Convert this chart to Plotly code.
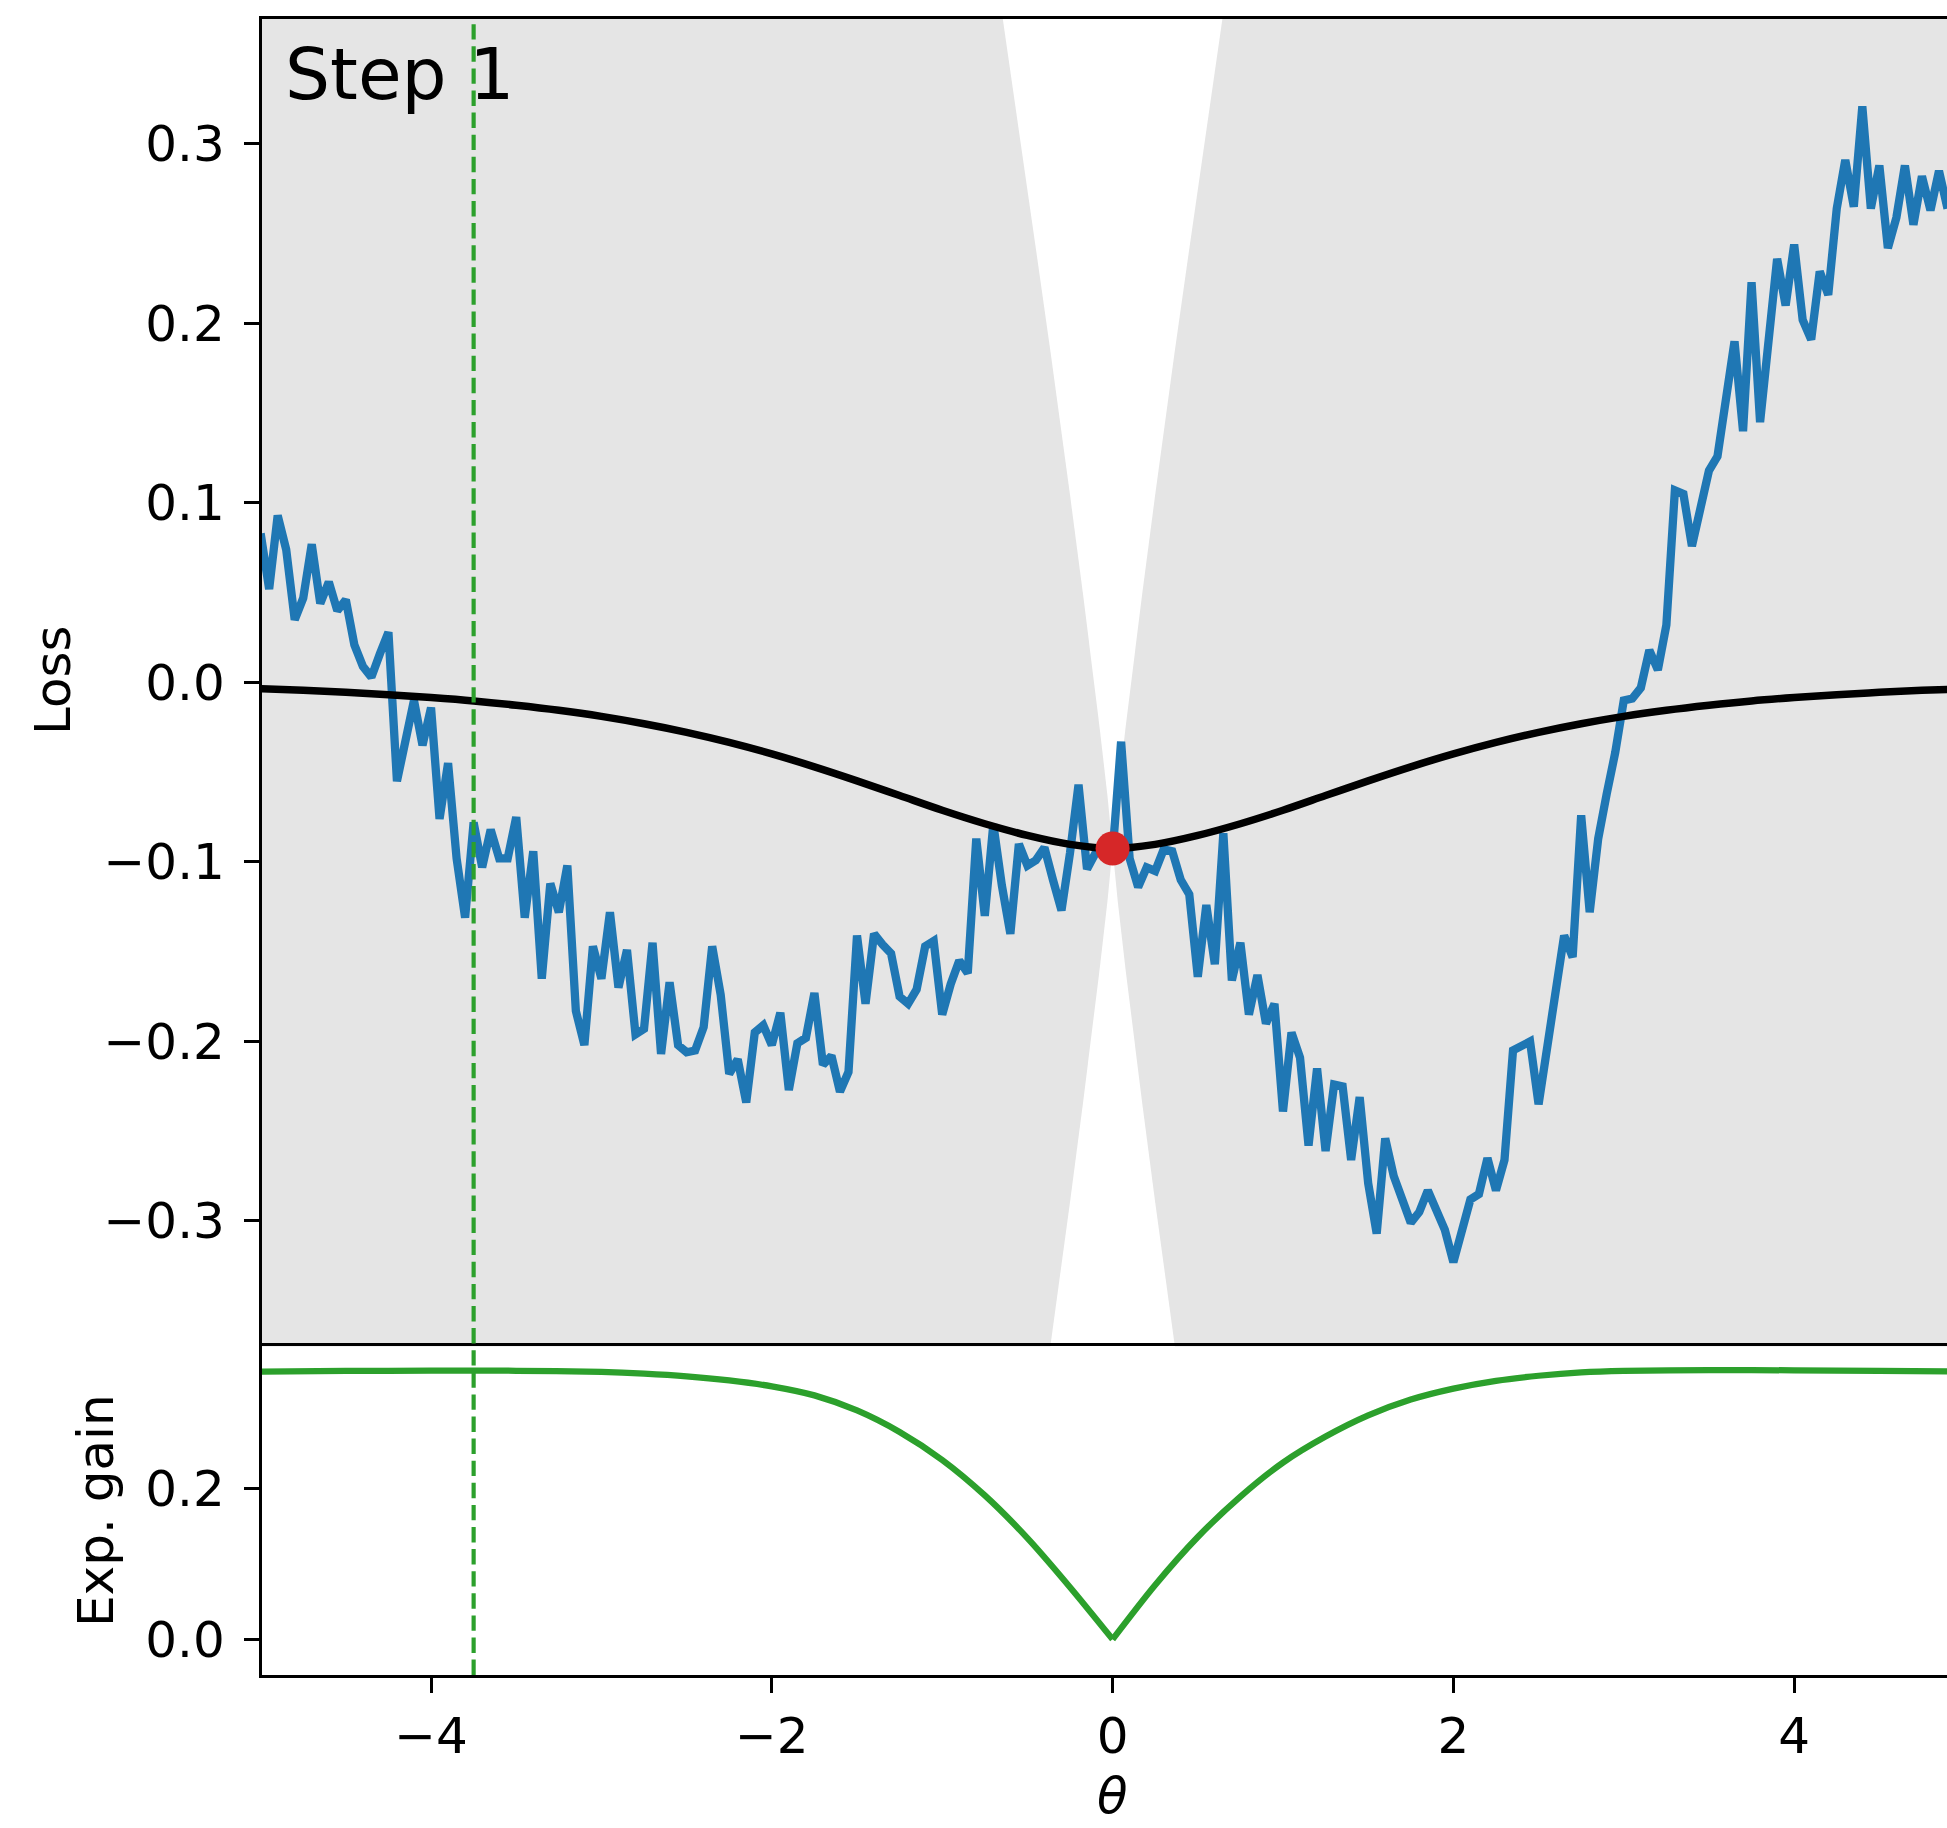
import plotly.graph_objects as go

# ---------------- data ----------------
theta_start = -5.0
theta_step = 0.05
loss_noisy = [
    0.083, 0.052, 0.093, 0.074, 0.035, 0.047, 0.077, 0.044, 0.056, 0.040,
    0.046, 0.021, 0.009, 0.003, 0.016, 0.028, -0.055, -0.032, -0.010, -0.035,
    -0.014, -0.076, -0.045, -0.098, -0.131, -0.078, -0.103, -0.082, -0.098, -0.098,
    -0.075, -0.131, -0.094, -0.165, -0.112, -0.128, -0.102, -0.183, -0.202, -0.147,
    -0.165, -0.128, -0.170, -0.149, -0.196, -0.193, -0.145, -0.207, -0.167, -0.202,
    -0.206, -0.205, -0.192, -0.147, -0.174, -0.218, -0.210, -0.234, -0.195, -0.191,
    -0.202, -0.184, -0.227, -0.201, -0.198, -0.173, -0.213, -0.208, -0.228, -0.217,
    -0.141, -0.179, -0.140, -0.146, -0.151, -0.175, -0.179, -0.171, -0.147, -0.144,
    -0.185, -0.168, -0.155, -0.162, -0.087, -0.130, -0.079, -0.113, -0.140, -0.090,
    -0.102, -0.099, -0.092, -0.110, -0.127, -0.095, -0.057, -0.104, -0.095, -0.090,
    -0.095, -0.033, -0.098, -0.114, -0.103, -0.105, -0.093, -0.094, -0.110, -0.118,
    -0.164, -0.124, -0.157, -0.084, -0.166, -0.145, -0.185, -0.163, -0.190, -0.179,
    -0.239, -0.195, -0.209, -0.258, -0.215, -0.261, -0.224, -0.225, -0.266, -0.231,
    -0.279, -0.307, -0.254, -0.275, -0.287, -0.301, -0.295, -0.283, -0.294, -0.305,
    -0.323, -0.305, -0.288, -0.285, -0.265, -0.283, -0.266, -0.205, -0.202, -0.200,
    -0.235, -0.203, -0.173, -0.141, -0.153, -0.074, -0.128, -0.087, -0.062, -0.039,
    -0.010, -0.009, -0.003, 0.018, 0.007, 0.032, 0.107, 0.105, 0.076, 0.097,
    0.118, 0.126, 0.160, 0.190, 0.140, 0.223, 0.145, 0.192, 0.236, 0.210,
    0.244, 0.202, 0.191, 0.229, 0.216, 0.264, 0.291, 0.265, 0.321, 0.264,
    0.288, 0.242, 0.259, 0.288, 0.255, 0.282, 0.263, 0.285, 0.264,
]
theta_noisy = [round(theta_start + i * theta_step, 4) for i in range(len(loss_noisy))]

theta_model = [-5.0, -4.75, -4.5, -4.25, -4.0, -3.75, -3.5, -3.25, -3.0, -2.75, -2.5,
               -2.25, -2.0, -1.75, -1.5, -1.25, -1.0, -0.75, -0.5, -0.25, 0.0,
               0.25, 0.5, 0.75, 1.0, 1.25, 1.5, 1.75, 2.0, 2.25, 2.5, 2.75, 3.0,
               3.25, 3.5, 3.75, 4.0, 4.25, 4.5, 4.75, 5.0]
loss_model = [-0.0035, -0.0044, -0.0055, -0.0068, -0.0084, -0.0103, -0.0127, -0.0155,
              -0.0189, -0.0230, -0.0278, -0.0334, -0.0398, -0.0470, -0.0548, -0.0630,
              -0.0712, -0.0787, -0.0852, -0.0902, -0.0925,
              -0.0902, -0.0852, -0.0787, -0.0712, -0.0630, -0.0548, -0.0470, -0.0398,
              -0.0334, -0.0278, -0.0230, -0.0189, -0.0155, -0.0127, -0.0103, -0.0084,
              -0.0068, -0.0055, -0.0044, -0.0035]

best_theta = 0.0
best_loss = -0.0925

# half-height of the unshaded hour-glass around the current point
cone_dist = [0.0, 0.01, 0.03, 0.075, 0.12, 0.172, 0.25, 0.298, 0.364, 0.45, 0.55, 0.645]
cone_half = [0.0, 0.0109, 0.0292, 0.0664, 0.1015, 0.1405, 0.197, 0.2308, 0.2764,
             0.334, 0.4006, 0.4625]

theta_gain_left = [-5.0, -4.5, -4.0, -3.5, -3.0, -2.75, -2.5, -2.25, -2.0, -1.75, -1.5,
                   -1.25, -1.0, -0.75, -0.5, -0.25, 0.0]
exp_gain_left = [0.3545, 0.3553, 0.3558, 0.3556, 0.3540, 0.3518, 0.3483, 0.3428, 0.3350,
                 0.3230, 0.3030, 0.2745, 0.2375, 0.1905, 0.1340, 0.0690, 0.0]
theta_gain_right = [0.0, 0.25, 0.5, 0.75, 1.0, 1.25, 1.5, 1.75, 2.0, 2.25, 2.5, 2.75,
                    3.0, 3.5, 4.0, 4.5, 4.9]
exp_gain_right = [0.0, 0.0720, 0.1355, 0.1890, 0.2340, 0.2685, 0.2965, 0.3175, 0.3320,
                  0.3423, 0.3490, 0.3535, 0.3555, 0.3565, 0.3562, 0.3555, 0.3548]

next_theta = -3.75

x_ticks = [-4, -2, 0, 2, 4]
x_ticktext = ["\u22124", "\u22122", "0", "2", "4"]
y1_ticks = [-0.3, -0.2, -0.1, 0.0, 0.1, 0.2, 0.3]
y1_ticktext = ["\u22120.3", "\u22120.2", "\u22120.1", "0.0", "0.1", "0.2", "0.3"]
y2_ticks = [0.0, 0.2]
y2_ticktext = ["0.0", "0.2"]

# ---------------- layout constants ----------------
W, H = 1947, 1828
ML, MR, MT, MB = 262, 0, 19, 153
SPLIT = 0.1984
X_RANGE = [-4.992, 4.897]
Y1_RANGE = [-0.3699, 0.3696]
Y2_RANGE = [-0.0473, 0.3878]
FONT = "DejaVu Sans"
FS = 50
LW_AX = 3.3
GRAY = "#e5e5e5"

fig = go.Figure()

# shaded regions (two wedges, left and right of the current point)
far_x = 6.0
for sgn in (1, -1):
    xs, ys = [], []
    for d, h in zip(cone_dist, cone_half):
        xs.append(best_theta + sgn * d)
        ys.append(best_loss + h)
    xs.append(best_theta + sgn * far_x)
    ys.append(best_loss + cone_half[-1] + 0.2)
    xs.append(best_theta + sgn * far_x)
    ys.append(best_loss - cone_half[-1] - 0.2)
    for d, h in zip(reversed(cone_dist), reversed(cone_half)):
        xs.append(best_theta + sgn * d)
        ys.append(best_loss - h)
    fig.add_trace(go.Scatter(x=xs, y=ys, mode="lines", fill="toself",
                             fillcolor=GRAY, line=dict(width=0, color=GRAY),
                             hoverinfo="skip", showlegend=False,
                             xaxis="x", yaxis="y"))

fig.add_trace(go.Scatter(x=theta_noisy, y=loss_noisy, mode="lines",
                         line=dict(color="#1f77b4", width=8.3),
                         showlegend=False, xaxis="x", yaxis="y"))
fig.add_trace(go.Scatter(x=theta_model, y=loss_model, mode="lines",
                         line=dict(color="black", width=7.5, shape="spline"),
                         showlegend=False, xaxis="x", yaxis="y"))
fig.add_trace(go.Scatter(x=[best_theta], y=[best_loss], mode="markers",
                         marker=dict(color="#d62728", size=34, line=dict(width=0)),
                         showlegend=False, xaxis="x", yaxis="y"))
for gx, gy in ((theta_gain_left, exp_gain_left), (theta_gain_right, exp_gain_right)):
    fig.add_trace(go.Scatter(x=gx, y=gy, mode="lines",
                             line=dict(color="#2ca02c", width=6.25, shape="spline",
                                       smoothing=0.8),
                             showlegend=False, xaxis="x2", yaxis="y2"))

fig.add_shape(type="line", xref="x2", yref="paper", x0=next_theta, x1=next_theta,
              y0=0, y1=1, layer="above",
              line=dict(color="#2ca02c", width=4.17, dash="15.4px,6.7px"))

axis_common = dict(showgrid=False, zeroline=False, linecolor="black", linewidth=LW_AX,
                   tickcolor="black", tickwidth=LW_AX, ticklen=15,
                   tickfont=dict(family=FONT, size=FS, color="black"))

fig.update_layout(
    width=W, height=H,
    margin=dict(l=ML, r=MR, t=MT, b=MB, pad=0),
    paper_bgcolor="white", plot_bgcolor="white",
    showlegend=False,
    xaxis=dict(axis_common, domain=[0, 1], anchor="y", side="top", range=X_RANGE,
               matches="x2", showline=True, ticks="", showticklabels=False),
    xaxis2=dict(axis_common, domain=[0, 1], anchor="y2", range=X_RANGE,
                showline=True, mirror=True, ticks="outside",
                tickvals=x_ticks, ticktext=x_ticktext),
    yaxis=dict(axis_common, domain=[SPLIT, 1], anchor="x", range=Y1_RANGE,
               showline=True, ticks="outside", tickvals=y1_ticks, ticktext=y1_ticktext,
               ticklabelstandoff=9),
    yaxis2=dict(axis_common, domain=[0, SPLIT], anchor="x2", range=Y2_RANGE,
                showline=True, ticks="outside", tickvals=y2_ticks, ticktext=y2_ticktext,
                ticklabelstandoff=9),
)

PW = W - ML - MR
PH = H - MT - MB


def px_to_paper_x(px):
    return (px - ML) / PW


def px_to_paper_y(py):
    return (H - MB - py) / PH


fig.add_annotation(text="Step 1", xref="paper", yref="paper",
                   x=px_to_paper_x(283), y=px_to_paper_y(31), xanchor="left", yanchor="top",
                   showarrow=False, font=dict(family=FONT, size=71, color="black"))
fig.add_annotation(text="Loss", xref="paper", yref="paper",
                   x=px_to_paper_x(53), y=px_to_paper_y(680), xanchor="center", yanchor="middle",
                   textangle=-90, showarrow=False,
                   font=dict(family=FONT, size=FS, color="black"))
fig.add_annotation(text="Exp. gain", xref="paper", yref="paper",
                   x=px_to_paper_x(96), y=px_to_paper_y(1511), xanchor="center", yanchor="middle",
                   textangle=-90, showarrow=False,
                   font=dict(family=FONT, size=FS, color="black"))
fig.add_annotation(text="<i>θ</i>", xref="x2", yref="paper",
                   x=0, y=px_to_paper_y(1796), xanchor="center", yanchor="middle",
                   showarrow=False, font=dict(family=FONT, size=FS, color="black"))

fig.write_html("out.html")
